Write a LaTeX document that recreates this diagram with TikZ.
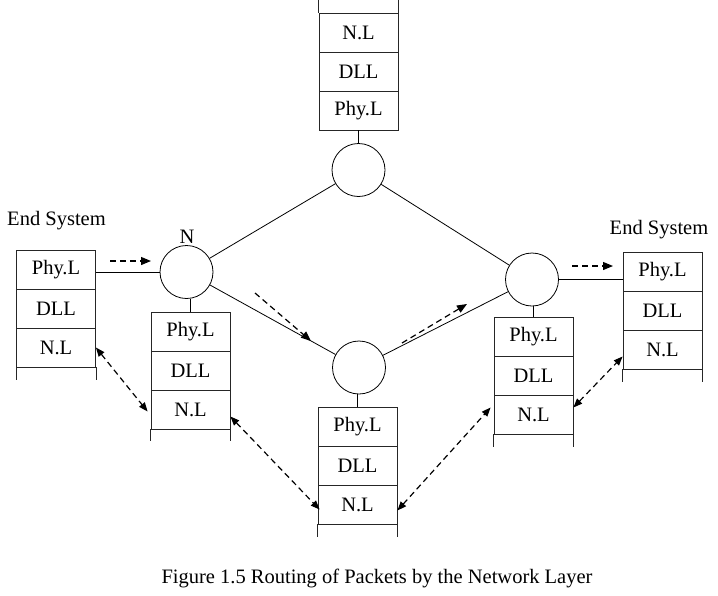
\documentclass[tikz,border=0pt]{standalone}
\usepackage{fontspec}
\setmainfont{Liberation Serif}
\usetikzlibrary{arrows.meta}
\begin{document}
\begin{tikzpicture}[x=1pt,y=-1pt,
  cell/.style={draw=black!85,line width=0.8pt,rectangle,minimum width=79pt,minimum height=39pt,inner sep=0pt,font=\fontsize{20.5}{24}\selectfont},
  router/.style={draw,line width=0.8pt,circle,minimum size=53pt,inner sep=0pt},
  link/.style={line width=0.8pt},
  openside/.style={draw=black!85,line width=0.8pt},
  flow/.style={line width=1.2pt,dash pattern=on 6pt off 4pt,-{Triangle[length=10pt,width=8pt]}},
  peer/.style={line width=1.2pt,dash pattern=on 6pt off 4pt,{Triangle[length=9pt,width=7pt]}-{Triangle[length=9pt,width=7pt]}},
  lbl/.style={font=\fontsize{20.5}{24}\selectfont,inner sep=0pt}]
\useasboundingbox (0,0) rectangle (718,595);
\fill[white] (0,0) rectangle (718,595);

% routers
\node[router] (N) at (186.5,272) {};
\node[router] (T) at (358.5,170) {};
\node[router] (B) at (359,367.5) {};
\node[router] (R) at (532,279.5) {};
\node[lbl] (Nlbl) at (187,237) {N};

% left end system
\node[lbl] (es1lbl) at (56.5,221) {End System};
\node[cell] (es1phy) at (56,269.5) {Phy.L};
\node[cell] (es1dll) at (56,308.5) {DLL};
\node[cell] (es1nl) at (56,347.5) {N.L};
\draw[openside] (es1nl.south west) -- ++(0,13) (es1nl.south east) -- ++(0,13);

% right end system
\node[lbl] (es2lbl) at (659,230) {End System};
\node[cell] (es2phy) at (662.5,271.5) {Phy.L};
\node[cell] (es2dll) at (662.5,310.5) {DLL};
\node[cell] (es2nl) at (662.5,349.5) {N.L};
\draw[openside] (es2nl.south west) -- ++(0,13) (es2nl.south east) -- ++(0,13);

% stack under N
\node[cell] (aphy) at (190.5,331.5) {Phy.L};
\node[cell] (adll) at (190.5,370.5) {DLL};
\node[cell] (anl) at (190.5,409.5) {N.L};
\draw[openside] (anl.south west) -- ++(0,12) (anl.south east) -- ++(0,12);

% top stack
\node[cell] (tphy) at (358.5,110.5) {Phy.L};
\node[cell] (tdll) at (358.5,71.5) {DLL};
\node[cell] (tnl) at (358.5,32.5) {N.L};
\draw[openside] (tnl.north west) -- ++(0,-13) (tnl.north east) -- ++(0,-13);

% bottom stack
\node[cell] (bphy) at (357.5,426.5) {Phy.L};
\node[cell] (bdll) at (357.5,465.5) {DLL};
\node[cell] (bnl) at (357.5,504.5) {N.L};
\draw[openside] (bnl.south west) -- ++(0,13) (bnl.south east) -- ++(0,13);

% stack under right router
\node[cell] (cphy) at (533.5,336.5) {Phy.L};
\node[cell] (cdll) at (533.5,375.5) {DLL};
\node[cell] (cnl) at (533.5,414.5) {N.L};
\draw[openside] (cnl.south west) -- ++(0,13) (cnl.south east) -- ++(0,13);

% links
\draw[link] (N) -- (T);
\draw[link] (T) -- (R);
\draw[link] (N) -- (B);
\draw[link] (B) -- (R);
\draw[link] (N.west) -- (N.west -| es1phy.east);
\draw[link] (R.east) -- (R.east -| es2phy.west);
\draw[link] (tphy.south) -- (tphy.south |- T.north);
\draw[link] (aphy.north) -- (aphy.north |- N.south);
\draw[link] (bphy.north) -- (bphy.north |- B.south);
\draw[link] (cphy.north) -- (cphy.north |- R.south);

% packet flow arrows
\coordinate (f1s) at (110,261); \coordinate (f1e) at (151,261);
\coordinate (f2s) at (572,266); \coordinate (f2e) at (613,266);
\coordinate (f3s) at (255,293); \coordinate (f3e) at (311,341);
\coordinate (f4s) at (402,343); \coordinate (f4e) at (467,304);
\draw[flow] (f1s) -- (f1e);
\draw[flow] (f2s) -- (f2e);
\draw[flow] (f3s) -- (f3e);
\draw[flow] (f4s) -- (f4e);

% peer N.L arrows
\draw[peer] (es1nl.east) -- ([xshift=-3pt,yshift=-2pt]anl.west);
\draw[peer] ([yshift=-7pt]anl.east) -- ([xshift=2pt,yshift=-5pt]bnl.west);
\draw[peer] ([yshift=-6pt]bnl.east) -- ([xshift=-3pt,yshift=7pt]cnl.west);
\draw[peer] ([yshift=7pt]cnl.east) -- ([yshift=-7pt]es2nl.west);

% caption
\node[lbl] (cap) at (377,578) {Figure 1.5 Routing of Packets by the Network Layer};
\end{tikzpicture}
\end{document}
